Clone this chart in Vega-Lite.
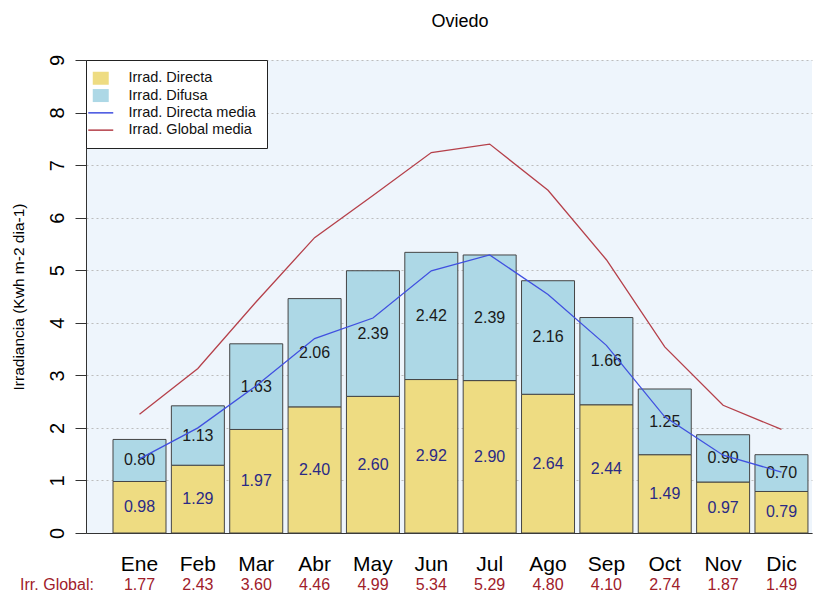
{
  "$schema": "https://vega.github.io/schema/vega-lite/v6.json",
  "width": 726,
  "height": 473,
  "autosize": {"type": "none"},
  "padding": {"left": 86, "top": 60, "right": 13, "bottom": 61},
  "background": "white",
  "title": {"text": "Oviedo", "fontSize": 18, "fontWeight": "normal", "color": "#000", "offset": 23, "dx": 11, "font": "Liberation Sans"},
  "config": {
    "font": "Liberation Sans",
    "view": {"fill": "#EEF5FC", "stroke": null},
    "axisY": {
      "titleX": -67.5, "titleY": 236.5, "titleAngle": 270,
      "titleAlign": "center", "titleBaseline": "middle", "titleFontSize": 15.5, "titleFontWeight": "normal", "titleColor": "#000",
      "tickCount": 9, "labelAngle": 270, "labelAlign": "center", "labelBaseline": "alphabetic",
      "labelFontSize": 20, "labelColor": "#000", "labelPadding": 12, "tickSize": 11, "tickColor": "#333",
      "domainColor": "#333", "grid": true, "gridDash": [2, 3], "gridColor": "#BDBDBD", "gridWidth": 1
    }
  },
  "datasets": {
    "barras": [
      {"mes": "Ene", "tipo": "Irrad. Directa", "valor": 0.98}, {"mes": "Ene", "tipo": "Irrad. Difusa", "valor": 0.80},
      {"mes": "Feb", "tipo": "Irrad. Directa", "valor": 1.29}, {"mes": "Feb", "tipo": "Irrad. Difusa", "valor": 1.13},
      {"mes": "Mar", "tipo": "Irrad. Directa", "valor": 1.97}, {"mes": "Mar", "tipo": "Irrad. Difusa", "valor": 1.63},
      {"mes": "Abr", "tipo": "Irrad. Directa", "valor": 2.40}, {"mes": "Abr", "tipo": "Irrad. Difusa", "valor": 2.06},
      {"mes": "May", "tipo": "Irrad. Directa", "valor": 2.60}, {"mes": "May", "tipo": "Irrad. Difusa", "valor": 2.39},
      {"mes": "Jun", "tipo": "Irrad. Directa", "valor": 2.92}, {"mes": "Jun", "tipo": "Irrad. Difusa", "valor": 2.42},
      {"mes": "Jul", "tipo": "Irrad. Directa", "valor": 2.90}, {"mes": "Jul", "tipo": "Irrad. Difusa", "valor": 2.39},
      {"mes": "Ago", "tipo": "Irrad. Directa", "valor": 2.64}, {"mes": "Ago", "tipo": "Irrad. Difusa", "valor": 2.16},
      {"mes": "Sep", "tipo": "Irrad. Directa", "valor": 2.44}, {"mes": "Sep", "tipo": "Irrad. Difusa", "valor": 1.66},
      {"mes": "Oct", "tipo": "Irrad. Directa", "valor": 1.49}, {"mes": "Oct", "tipo": "Irrad. Difusa", "valor": 1.25},
      {"mes": "Nov", "tipo": "Irrad. Directa", "valor": 0.97}, {"mes": "Nov", "tipo": "Irrad. Difusa", "valor": 0.90},
      {"mes": "Dic", "tipo": "Irrad. Directa", "valor": 0.79}, {"mes": "Dic", "tipo": "Irrad. Difusa", "valor": 0.70}
    ],
    "lineas": [
      {"mes": "Ene", "serie": "Irrad. Directa media", "valor": 1.41}, {"mes": "Feb", "serie": "Irrad. Directa media", "valor": 2.00},
      {"mes": "Mar", "serie": "Irrad. Directa media", "valor": 2.80}, {"mes": "Abr", "serie": "Irrad. Directa media", "valor": 3.70},
      {"mes": "May", "serie": "Irrad. Directa media", "valor": 4.09}, {"mes": "Jun", "serie": "Irrad. Directa media", "valor": 4.99},
      {"mes": "Jul", "serie": "Irrad. Directa media", "valor": 5.29}, {"mes": "Ago", "serie": "Irrad. Directa media", "valor": 4.54},
      {"mes": "Sep", "serie": "Irrad. Directa media", "valor": 3.57}, {"mes": "Oct", "serie": "Irrad. Directa media", "valor": 2.21},
      {"mes": "Nov", "serie": "Irrad. Directa media", "valor": 1.48}, {"mes": "Dic", "serie": "Irrad. Directa media", "valor": 1.16},
      {"mes": "Ene", "serie": "Irrad. Global media", "valor": 2.26}, {"mes": "Feb", "serie": "Irrad. Global media", "valor": 3.13},
      {"mes": "Mar", "serie": "Irrad. Global media", "valor": 4.40}, {"mes": "Abr", "serie": "Irrad. Global media", "valor": 5.62},
      {"mes": "May", "serie": "Irrad. Global media", "valor": 6.42}, {"mes": "Jun", "serie": "Irrad. Global media", "valor": 7.24},
      {"mes": "Jul", "serie": "Irrad. Global media", "valor": 7.40}, {"mes": "Ago", "serie": "Irrad. Global media", "valor": 6.52},
      {"mes": "Sep", "serie": "Irrad. Global media", "valor": 5.20}, {"mes": "Oct", "serie": "Irrad. Global media", "valor": 3.54},
      {"mes": "Nov", "serie": "Irrad. Global media", "valor": 2.43}, {"mes": "Dic", "serie": "Irrad. Global media", "valor": 1.97}
    ],
    "global": [
      {"mes": "Ene", "global": 1.77}, {"mes": "Feb", "global": 2.43}, {"mes": "Mar", "global": 3.60},
      {"mes": "Abr", "global": 4.46}, {"mes": "May", "global": 4.99}, {"mes": "Jun", "global": 5.34},
      {"mes": "Jul", "global": 5.29}, {"mes": "Ago", "global": 4.80}, {"mes": "Sep", "global": 4.10},
      {"mes": "Oct", "global": 2.74}, {"mes": "Nov", "global": 1.87}, {"mes": "Dic", "global": 1.49}
    ]
  },
  "encoding": {
    "x": {
      "field": "mes", "type": "nominal",
      "scale": {"domain": ["Ene","Feb","Mar","Abr","May","Jun","Jul","Ago","Sep","Oct","Nov","Dic"], "paddingInner": 0.092, "paddingOuter": 0.266, "align": 0.87},
      "axis": {
        "title": "Irr. Global:", "titleX": -29.5, "titleY": 51, "titleColor": "#A0202A", "titleFontSize": 16,
        "titleFontWeight": "normal", "titleAlign": "center", "titleBaseline": "middle", "titleAngle": 0,
        "labelFontSize": 21, "labelColor": "#000", "labelPadding": 20, "labelAngle": 0,
        "ticks": false, "domainColor": "#333", "domainWidth": 1, "grid": false
      }
    }
  },
  "layer": [
    {
      "data": {"name": "barras"},
      "mark": {"type": "bar", "stroke": "#454545", "strokeWidth": 1},
      "encoding": {
        "y": {
          "field": "valor", "type": "quantitative", "stack": "zero",
          "scale": {"domain": [0, 9], "nice": false},
          "title": "Irradiancia (Kwh m-2 dia-1)"
        },
        "color": {
          "field": "tipo", "type": "nominal",
          "scale": {"domain": ["Irrad. Directa","Irrad. Difusa","Irrad. Directa media","Irrad. Global media"], "range": ["#EEDC82","#ADD8E6","#4050E0","#B5404A"]},
          "legend": {
            "orient": "top-left", "offset": 0, "title": null,
            "fillColor": "#FFFFFF", "strokeColor": "#222", "padding": 11,
            "labelFontSize": 14.5, "labelColor": "#111", "labelOffset": 20.5, "symbolOffset": -3.5, "rowPadding": 2.3,
            "symbolSize": 289,
            "symbolType": {"expr": "indexof(['Irrad. Directa','Irrad. Difusa'], datum.value) >= 0 ? 'M-0.94,-0.765H0.94V0.765H-0.94Z' : 'M-1.47,0H1.47'"},
            "symbolStrokeColor": {"expr": "scale('color', datum.value)"},
            "symbolStrokeWidth": {"expr": "indexof(['Irrad. Directa','Irrad. Difusa'], datum.value) >= 0 ? 0 : 1.5"},
            "symbolOpacity": 1
          }
        },
        "order": {"field": "tipo", "sort": "descending"}
      }
    },
    {
      "data": {"name": "barras"},
      "transform": [
        {"stack": "valor", "groupby": ["mes"], "sort": [{"field": "tipo", "order": "descending"}], "as": ["v0", "v1"]},
        {"calculate": "(datum.v0 + datum.v1) / 2", "as": "medio"}
      ],
      "mark": {"type": "text", "fontSize": 16, "baseline": "middle", "align": "center"},
      "encoding": {
        "y": {"field": "medio", "type": "quantitative", "scale": {"domain": [0, 9], "nice": false}, "title": "Irradiancia (Kwh m-2 dia-1)"},
        "text": {"field": "valor", "type": "quantitative", "format": ".2f"},
        "color": {"condition": {"test": "datum.tipo == 'Irrad. Directa'", "value": "#2A2A86"}, "value": "#1A1A1A"}
      }
    },
    {
      "data": {"name": "lineas"},
      "mark": {"type": "line", "strokeWidth": 1.3},
      "encoding": {
        "y": {"field": "valor", "type": "quantitative", "scale": {"domain": [0, 9], "nice": false}, "title": "Irradiancia (Kwh m-2 dia-1)"},
        "color": {"field": "serie", "type": "nominal", "legend": null,
          "scale": {"domain": ["Irrad. Directa","Irrad. Difusa","Irrad. Directa media","Irrad. Global media"], "range": ["#EEDC82","#ADD8E6","#4050E0","#B5404A"]}}
      }
    },
    {
      "data": {"name": "global"},
      "mark": {"type": "text", "fontSize": 16, "baseline": "middle", "align": "center", "color": "#A0202A"},
      "encoding": {
        "y": {"datum": -0.98, "type": "quantitative", "scale": {"domain": [0, 9], "nice": false}, "title": "Irradiancia (Kwh m-2 dia-1)"},
        "text": {"field": "global", "type": "quantitative", "format": ".2f"}
      }
    }
  ]
}
